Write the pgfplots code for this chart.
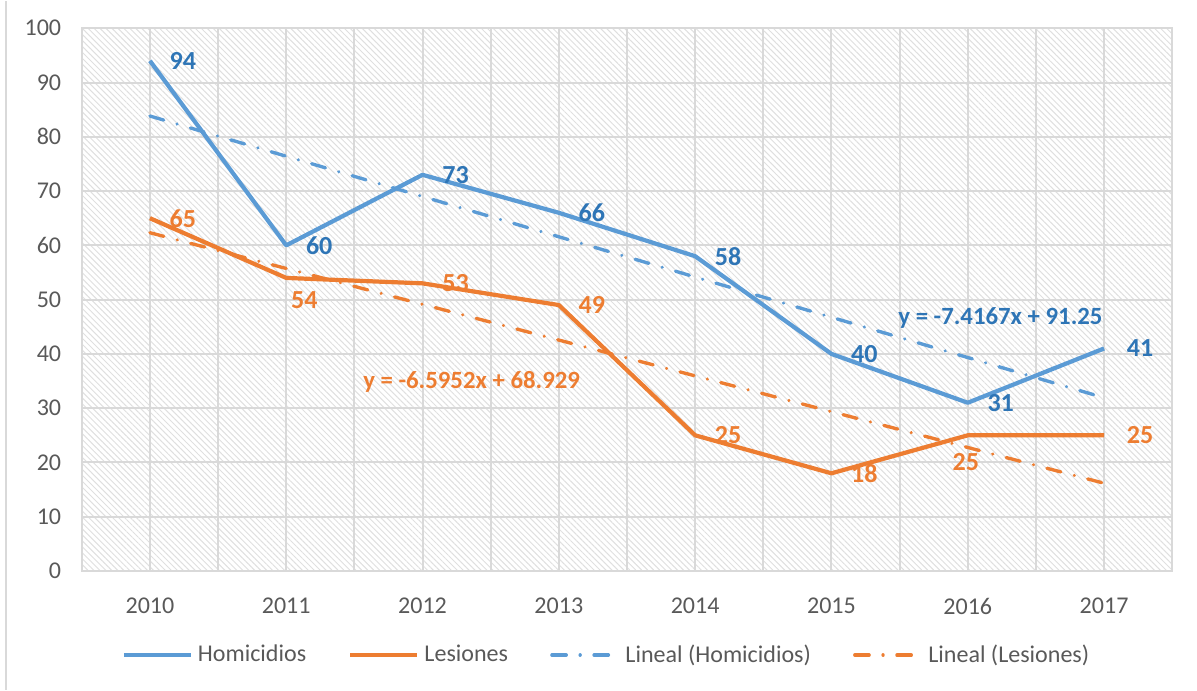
\documentclass[border=0pt]{standalone}
\usepackage{fontspec}
\setmainfont{Carlito}
\usepackage{pgfplots}
\usepackage{pgfplotstable}
\pgfplotsset{compat=1.18}
\usetikzlibrary{patterns.meta}

\definecolor{homblue}{HTML}{5B9BD5}
\definecolor{homlabel}{HTML}{2E75B6}
\definecolor{lesorange}{HTML}{ED7D31}
\definecolor{gridgray}{HTML}{D9D9D9}
\definecolor{ticktext}{HTML}{595959}

% year index 1..8 = 2010..2017; dx/dy = label offset (pt)
\pgfplotstableread{
x y dx dy
1 94 13.3 0
2 60 13.3 0
3 73 13.3 0
4 66 13.3 0
5 58 13.3 0
6 40 13.3 0
7 31 13.3 0
8 41 14.5 0
}\homicidios

\pgfplotstableread{
x y dx dy
1 65 13.3 0
2 54 7.3 -8.9
3 53 13.3 0
4 49 13.3 0
5 25 13.3 0
6 18 13.3 0
7 25 -0.8 -10.9
8 25 14.5 0
}\lesiones

\begin{document}
\begin{tikzpicture}
\begin{axis}[
    scale only axis, width=440pt, height=219pt,
    xmin=0.5, xmax=8.5, ymin=0, ymax=100,
    xtick={1,2,3,4,5,6,7,8},
    xticklabels={2010,2011,2012,2013,2014,2015,2016,2017},
    minor xtick={0.5,1.5,2.5,3.5,4.5,5.5,6.5,7.5,8.5},
    ytick={0,10,20,30,40,50,60,70,80,90,100},
    grid=both,
    grid style={gridgray, line width=0.8pt},
    minor grid style={gridgray, line width=0.8pt},
    major tick length=0pt, minor tick length=0pt,
    axis line style={gridgray, line width=0.8pt},
    axis background/.style={pattern={Lines[angle=-45,distance=1.7pt,line width=0.4pt]}, pattern color=gray!25},
    tick label style={font=\fontsize{9.7}{11}\selectfont, text=ticktext},
    xticklabel style={yshift=-7.5pt},
    yticklabel style={xshift=-4.8pt},
    /pgf/number format/assume math mode=true,
    clip=false,
    legend style={at={(0.4826,-0.155)}, anchor=center, draw=none, fill=none,
        legend columns=4, font=\fontsize{9.7}{11}\selectfont, text=ticktext,
        /tikz/every even column/.append style={column sep=15pt}},
    legend cell align=left,
    legend image code/.code={\draw[#1] (0pt,0pt) -- (27pt,0pt);},
    trend/.style={line width=1.35pt, line cap=round, dash pattern=on 5.8pt off 5.6pt on 0.01pt off 5.6pt},
]
\addplot[homblue, line width=1.7pt, line join=round,
    nodes near coords,
    visualization depends on={\thisrow{dx}\as\dx},
    visualization depends on={\thisrow{dy}\as\dy},
    every node near coord/.append style={anchor=center, xshift={\dx*1pt}, yshift={\dy*1pt},
        text=homlabel, font=\bfseries\fontsize{10.5}{12}\selectfont}]
    table[x=x,y=y] {\homicidios};
\addlegendentry{Homicidios}
\addplot[lesorange, line width=1.7pt, line join=round,
    nodes near coords,
    visualization depends on={\thisrow{dx}\as\dx},
    visualization depends on={\thisrow{dy}\as\dy},
    every node near coord/.append style={anchor=center, xshift={\dx*1pt}, yshift={\dy*1pt},
        text=lesorange, font=\bfseries\fontsize{10.5}{12}\selectfont}]
    table[x=x,y=y] {\lesiones};
\addlegendentry{Lesiones}
\addplot[homblue, trend] coordinates {
    (1,83.83) (2,76.42) (3,69.00) (4,61.58) (5,54.17) (6,46.75) (7,39.33) (8,31.92)
};
\addlegendentry{Lineal (Homicidios)}
\addplot[lesorange, trend] coordinates {
    (1,62.33) (2,55.74) (3,49.14) (4,42.55) (5,35.95) (6,29.36) (7,22.76) (8,16.17)
};
\addlegendentry{Lineal (Lesiones)}

\node[text=homlabel, font=\bfseries\fontsize{10}{12}\selectfont] at (axis cs:7.24,46.7) {y = -7.4167x + 91.25};
\node[text=lesorange, font=\bfseries\fontsize{10}{12}\selectfont] at (axis cs:3.36,34.9) {y = -6.5952x + 68.929};
\end{axis}
\path ([xshift=-33pt,yshift=-48pt]current axis.south west) rectangle ([xshift=10pt,yshift=11pt]current axis.north east);
\draw[gridgray, line width=0.8pt] ([xshift=-30.5pt,yshift=-48pt]current axis.south west) -- ([xshift=-30.5pt,yshift=11pt]current axis.north west);
\end{tikzpicture}
\end{document}
